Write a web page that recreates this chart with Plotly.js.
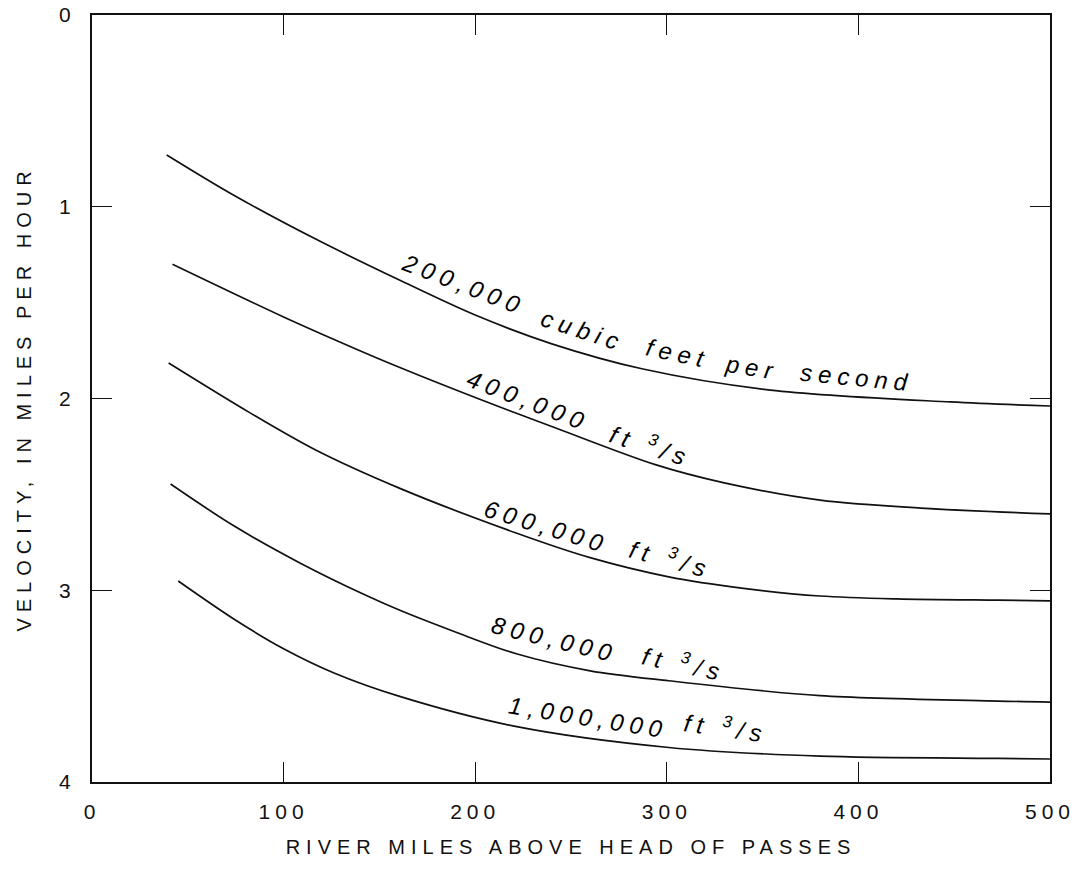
<!DOCTYPE html>
<html><head><meta charset="utf-8">
<script src="https://cdn.plot.ly/plotly-3.0.1.min.js"></script>
<style>
html,body{margin:0;padding:0;background:#fff;}
.xtick text, .ytick text { letter-spacing: 5px; }
.g-xtitle text, .g-ytitle text { letter-spacing: 6px; }
.annotation-text { letter-spacing: 6px; }
</style></head>
<body><div id="chart" style="width:1084px;height:871px"></div>
<script>
// River miles above Head of Passes (x) and velocity in mph (y) for each discharge
const miles200k = [39, 74, 117, 161, 200, 240, 287, 354, 448, 500];
const vel200k   = [0.73, 0.94, 1.17, 1.385, 1.565, 1.715, 1.845, 1.956, 2.018, 2.039];
const miles400k = [42, 100, 135, 161, 200, 241, 294, 330, 380, 435, 500];
const vel400k   = [1.30, 1.575, 1.73, 1.84, 1.995, 2.15, 2.345, 2.44, 2.53, 2.573, 2.602];
const miles600k = [40, 82.5, 117, 161, 221, 260, 301, 340, 380, 420, 473, 500];
const vel600k   = [1.815, 2.075, 2.27, 2.47, 2.70, 2.83, 2.93, 2.99, 3.03, 3.045, 3.052, 3.055];
const miles800k = [41, 74, 109, 143.5, 161, 190, 221, 260, 301, 380, 473, 500];
const vel800k   = [2.446, 2.664, 2.86, 3.029, 3.106, 3.219, 3.33, 3.42, 3.472, 3.55, 3.578, 3.583];
const miles1m   = [45, 74, 100, 126, 161, 221, 301, 380, 473, 500];
const vel1m     = [2.952, 3.15, 3.305, 3.43, 3.555, 3.71, 3.82, 3.865, 3.877, 3.88];

const seriesNames = ['200,000 cubic feet per second', '400,000 ft3/s', '600,000 ft3/s', '800,000 ft3/s', '1,000,000 ft3/s'];
const xTickVals = [0, 100, 200, 300, 400, 500];
const yTickVals = [0, 1, 2, 3, 4];
const xTitle = 'RIVER MILES ABOVE HEAD OF PASSES';
const yTitle = 'VELOCITY, IN MILES PER HOUR';

// curve label pieces (text of each word group)
const label200k = ['200,000', 'cubic', 'feet', 'per', 'second'];
const labelNum = ['400,000', '600,000', '800,000', '1,000,000'];
const labelUnit = 'ft <sup>3</sup>/s';

const xs = [miles200k, miles400k, miles600k, miles800k, miles1m];
const ys = [vel200k, vel400k, vel600k, vel800k, vel1m];

const traces = xs.map((x, i) => ({
  x: x, y: ys[i], name: seriesNames[i], type: 'scatter', mode: 'lines',
  line: {color: '#111', width: 1.7, shape: 'spline', smoothing: 0.9},
  hoverinfo: 'skip'
}));

// placement of word groups along the curves: [x, y, angle]
const pos200 = [[194.2, 1.403, 21], [256.5, 1.643, 18], [306, 1.763, 12], [344.5, 1.836, 9], [399, 1.893, 5.5]];
const posNum = [[227.6, 2.008, 21], [237.0, 2.670, 17], [241.6, 3.259, 13.5], [258.9, 3.661, 9]];
const posUnit = [[292, 2.243, 18], [302, 2.832, 15], [309, 3.379, 12], [331, 3.713, 8]];

const annFont = {family: 'Liberation Sans, Arial, sans-serif', size: 24, color: '#000'};
const annotations = [];
label200k.forEach((t, i) => annotations.push({
  x: pos200[i][0], y: pos200[i][1], xref: 'x', yref: 'y', text: '<i>' + t + '</i>',
  textangle: pos200[i][2], showarrow: false, font: annFont, xanchor: 'center', yanchor: 'middle'
}));
labelNum.forEach((t, i) => {
  annotations.push({
    x: posNum[i][0], y: posNum[i][1], xref: 'x', yref: 'y', text: '<i>' + t + '</i>',
    textangle: posNum[i][2], showarrow: false, font: annFont, xanchor: 'center', yanchor: 'middle'
  });
  annotations.push({
    x: posUnit[i][0], y: posUnit[i][1], xref: 'x', yref: 'y', text: '<i>' + labelUnit + '</i>',
    textangle: posUnit[i][2], showarrow: false, font: annFont, xanchor: 'center', yanchor: 'middle'
  });
});

const tickFont = {family: 'Liberation Sans, Arial, sans-serif', size: 21, color: '#111'};
const titleFont = {family: 'Liberation Sans, Arial, sans-serif', size: 20, color: '#111'};
const layout = {
  width: 1084, height: 871,
  margin: {l: 92, r: 34, t: 15, b: 89},
  paper_bgcolor: '#fff', plot_bgcolor: '#fff',
  showlegend: false,
  xaxis: {
    range: [0, 500], tickvals: xTickVals, ticktext: xTickVals.map(String),
    showgrid: false, zeroline: false, showline: true, linecolor: '#111', linewidth: 2,
    mirror: 'ticks', ticks: 'inside', ticklen: 20, tickwidth: 1.2, tickcolor: '#111',
    tickfont: tickFont, ticklabelstandoff: 10,
    title: {text: xTitle, font: titleFont, standoff: 18}
  },
  yaxis: {
    range: [4, 0], tickvals: yTickVals, ticktext: yTickVals.map(String),
    showgrid: false, zeroline: false, showline: true, linecolor: '#111', linewidth: 2,
    mirror: 'ticks', ticks: 'inside', ticklen: 20, tickwidth: 1.2, tickcolor: '#111',
    tickfont: tickFont, ticklabelstandoff: 10,
    title: {text: yTitle, font: titleFont, standoff: 22}
  },
  annotations: annotations
};

Plotly.newPlot('chart', traces, layout, {displayModeBar: false, staticPlot: true});
</script>
</body></html>
